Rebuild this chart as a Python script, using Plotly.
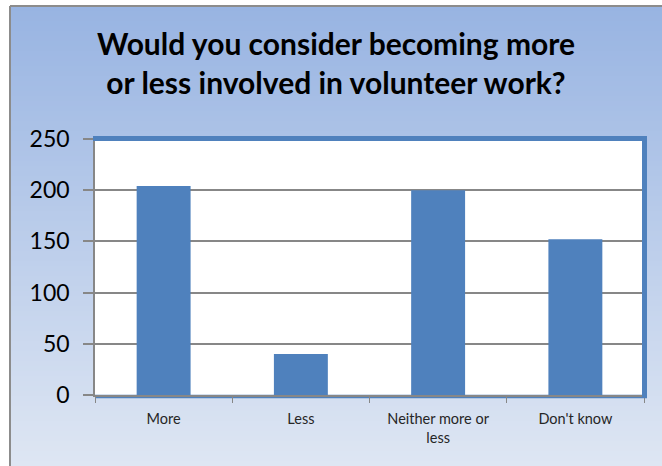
import plotly.graph_objects as go

categories = ["More", "Less", "Neither more or<br>less", "Don't know"]
values = [204, 40, 200, 152]
y_ticks = [0, 50, 100, 150, 200, 250]

W, H = 662, 466
L, R, T, B = 95, 644, 139, 395  # plot area pixel edges
pw, ph = R - L, B - T

def px(x):
    return (x - L) / pw

def py(y):
    return (B - y) / ph

shapes = []
# gradient background inside the frame
top_c = (152, 180, 226)
bot_c = (222, 230, 243)
y0 = 6
n = 92
step = (H - y0) / n
for i in range(n):
    t = i / (n - 1)
    c = tuple(round(a + (b - a) * t) for a, b in zip(top_c, bot_c))
    ya = y0 + i * step
    yb = ya + step + 0.6
    shapes.append(dict(type="rect", xref="paper", yref="paper", layer="below",
                       x0=px(10), x1=px(W + 2), y0=py(yb), y1=py(ya),
                       fillcolor="rgb(%d,%d,%d)" % c, line=dict(width=0)))
# frame lines
shapes.append(dict(type="line", xref="paper", yref="paper", layer="below",
                   x0=px(10), x1=px(W + 2), y0=py(6), y1=py(6),
                   line=dict(color="#8c8c8c", width=2)))
shapes.append(dict(type="line", xref="paper", yref="paper", layer="below",
                   x0=px(10), x1=px(10), y0=py(6), y1=py(H + 2),
                   line=dict(color="#8c8c8c", width=2)))
# white plot area
shapes.append(dict(type="rect", xref="paper", yref="paper", layer="below",
                   x0=0, x1=1, y0=0, y1=1, fillcolor="white", line=dict(width=0)))
# blue plot border
blue = "#4F81BD"
shapes.append(dict(type="line", xref="paper", yref="paper", layer="below",
                   x0=px(95), x1=px(647), y0=py(396.5), y1=py(396.5),
                   line=dict(color=blue, width=3.5)))
shapes.append(dict(type="line", xref="paper", yref="paper", layer="above",
                   x0=px(93), x1=px(647), y0=py(138.5), y1=py(138.5),
                   line=dict(color=blue, width=5)))
shapes.append(dict(type="line", xref="paper", yref="paper", layer="above",
                   x0=px(644.5), x1=px(644.5), y0=py(136), y1=py(398),
                   line=dict(color=blue, width=5)))

fig = go.Figure(go.Bar(x=categories, y=values, marker=dict(color=blue, line=dict(width=0))))

fig.update_layout(
    width=W, height=H,
    margin=dict(l=L, r=W - R, t=T, b=H - B),
    paper_bgcolor="white",
    plot_bgcolor="rgba(0,0,0,0)",
    bargap=0.607,
    showlegend=False,
    shapes=shapes,
    title=dict(
        text="Would you consider becoming more<br>or less involved in volunteer work?",
        x=336 / W, xanchor="center", xref="container",
        y=1 - 55 / H, yanchor="middle", yref="container",
        font=dict(family="Lato", size=30, color="black", weight="bold"),
    ),
    font=dict(family="Lato"),
)
fig.update_yaxes(range=[0, 250], tickvals=y_ticks, showgrid=True, gridcolor="#878787",
                 gridwidth=1.6, showline=True, linecolor="#878787", linewidth=1.5,
                 ticks="outside", ticklen=10, tickcolor="#878787", tickwidth=1.5,
                 ticklabelstandoff=9,
                 tickfont=dict(family="Lato", size=23, color="black"), zeroline=False)
fig.update_xaxes(showline=True, linecolor="#878787", linewidth=1.5, ticks="outside",
                 tickson="boundaries", ticklen=6, tickcolor="#878787",
                 ticklabelstandoff=10,
                 tickfont=dict(family="Lato", size=14.5, color="#262626"))

fig.write_html("out.html", config={"displayModeBar": False},
               post_script="document.body.style.margin='0';")
